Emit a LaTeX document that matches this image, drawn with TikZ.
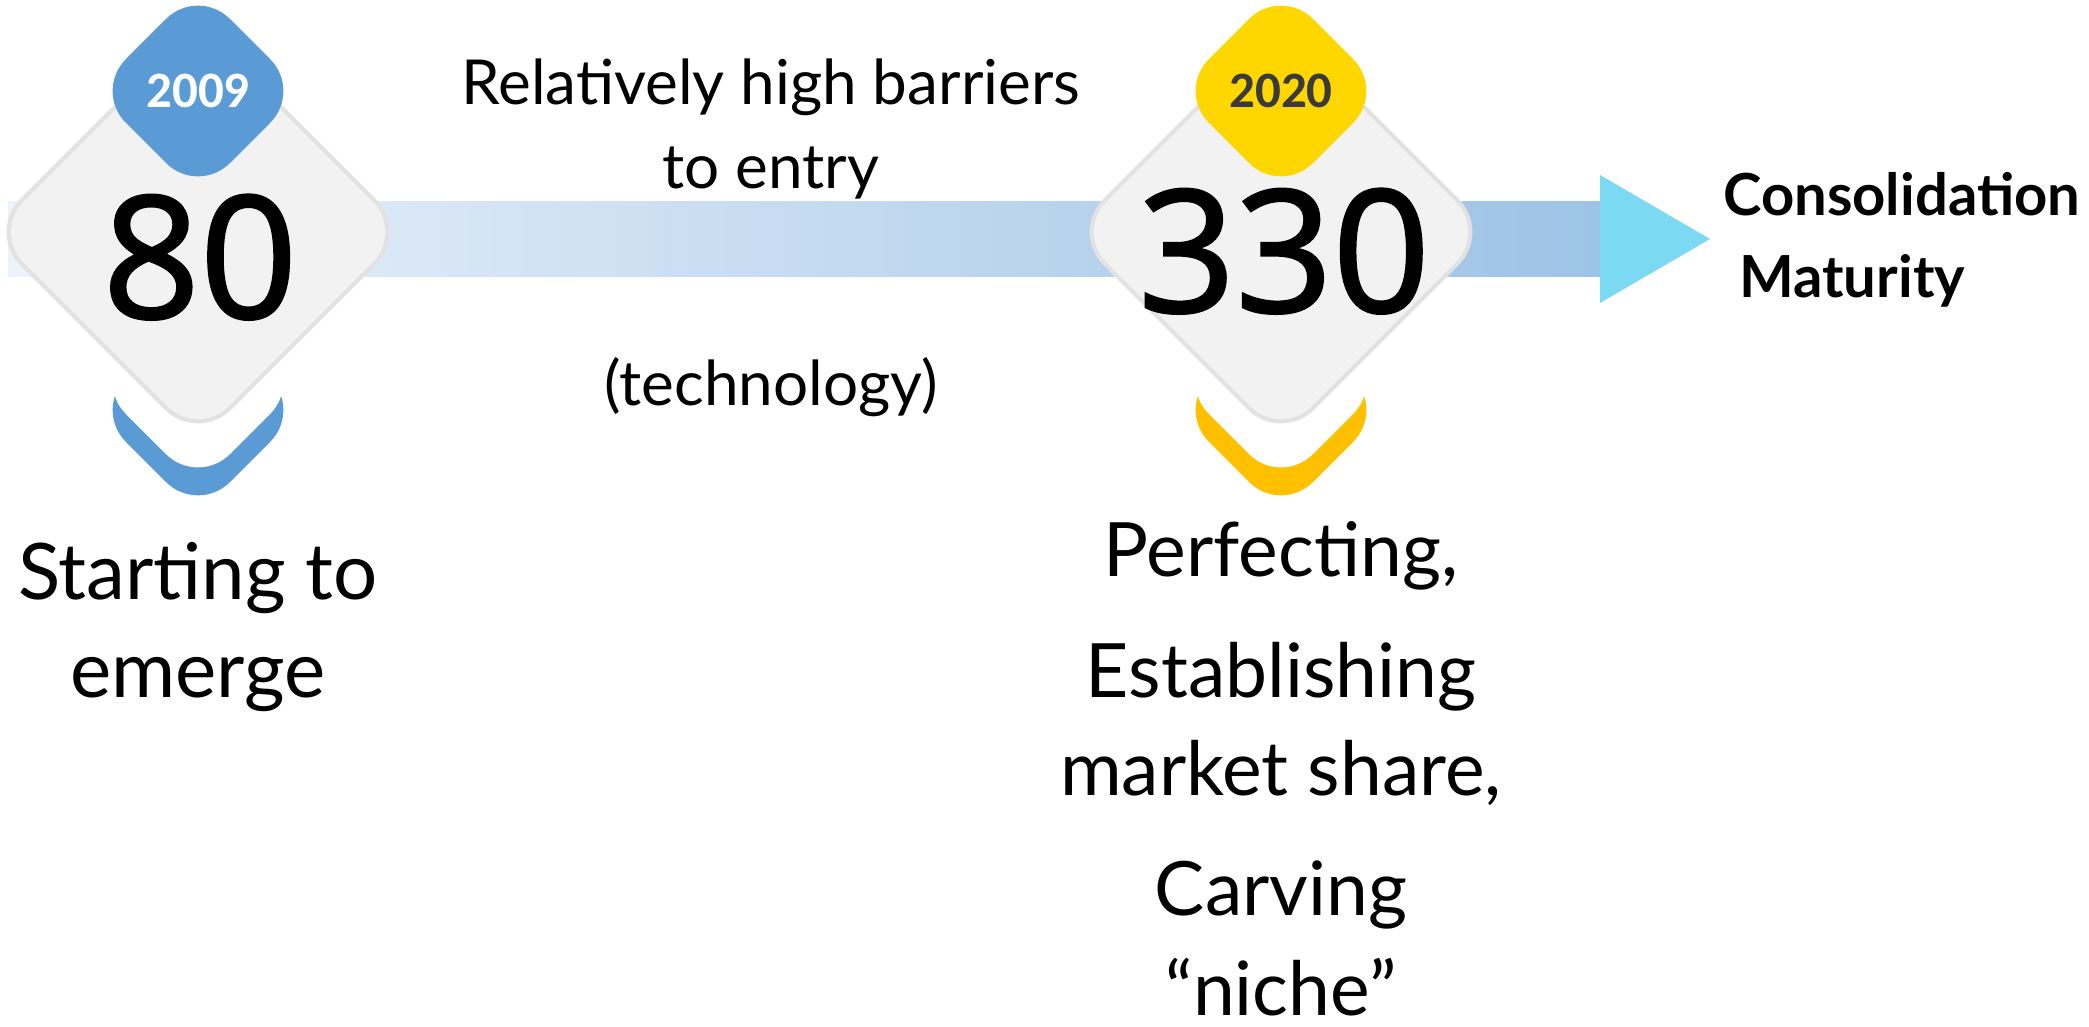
\documentclass[tikz,border=0pt]{standalone}
\usepackage{fontspec}
\setmainfont{Lato}
\newfontfamily\numfont[FakeBold=1.6]{Open Sans}
\newfontfamily\yearfont{Carlito}

\definecolor{badgeblue}{HTML}{5B9BD5}
\definecolor{badgegold}{HTML}{FFD700}
\definecolor{chevgold}{HTML}{FFC000}
\definecolor{tilefill}{HTML}{F2F2F2}
\definecolor{tileedge}{HTML}{E2E2E2}
\definecolor{bandlight}{HTML}{EEF3FA}
\definecolor{banddark}{HTML}{9DC3E6}
\definecolor{tipcyan}{HTML}{7BDAF2}
\definecolor{yeargray}{HTML}{3A3A3A}

% rounded diamond: centre x, centre y, half diagonal, style
\newcommand\rdiamond[4]{%
  \path[#4] (#1,#2-#3) -- (#1+#3,#2) -- (#1,#2+#3) -- (#1-#3,#2) -- cycle;}

\tikzset{
  tile/.style={fill=tilefill, draw=tileedge, line width=4pt, rounded corners=45pt},
  badge/.style={rounded corners=45pt},
  txt/.style={inner sep=0pt, anchor=base},
  bigtxt/.style={txt, font=\fontsize{78}{98}\selectfont},
  sidetxt/.style={txt, font=\fontsize{75}{98}\selectfont},
  midtxt/.style={txt, font=\fontsize{62}{80}\selectfont},
  endtxt/.style={inner sep=0pt, anchor=base west, font=\bfseries\fontsize{58}{80}\selectfont},
  numtxt/.style={txt, font=\numfont\fontsize{170}{170}\selectfont},
  yeartxt/.style={txt, font=\yearfont\bfseries\fontsize{51}{51}\selectfont},
}

\begin{document}
\begin{tikzpicture}[x=1pt, y=-1pt]
\useasboundingbox (0,0) rectangle (2089,1027);

% timeline band and its arrowhead
\shade[left color=bandlight, right color=banddark] (8,202) rectangle (1600,277);
\fill[tipcyan] (1600,175) -- (1710,239) -- (1600,303) -- cycle;

% chevrons under the tiles
\begin{scope}
  \clip (90,397) rectangle (310,520);
  \rdiamond{198}{410}{104}{badge, fill=badgeblue}
  \rdiamond{198}{382}{104}{badge, fill=white}
\end{scope}
\begin{scope}
  \clip (1170,397) rectangle (1390,520);
  \rdiamond{1281}{410}{104}{badge, fill=chevgold}
  \rdiamond{1281}{382}{104}{badge, fill=white}
\end{scope}

% number tiles
\rdiamond{198}{232}{208}{tile}
\rdiamond{1281}{232}{208}{tile}

% year badges
\rdiamond{198}{91}{104}{badge, fill=badgeblue}
\rdiamond{1281}{91}{104}{badge, fill=badgegold}

\node[yeartxt, text=white] (y2009) at (198,108) {2009};
\node[yeartxt, text=yeargray] (y2020) at (1281,108) {2020};

\node[numtxt] (n80) at (200,318) {80};
\node[numtxt] (n330) at (1284,312) {330};

% text between the tiles
\node[midtxt] (bar1) at (771,105) {Relatively high barriers};
\node[midtxt] (bar2) at (771,189) {to entry};
\node[midtxt] (tech) at (771,405) {(technology)};

% stage captions
\node[bigtxt] (st1) at (198,599) {Starting to};
\node[bigtxt] (st2) at (198,697) {emerge};

\node[sidetxt] (pf1) at (1281,576) {Perfecting,};
\node[sidetxt] (pf2) at (1281,697) {Establishing};
\node[sidetxt] (pf3) at (1281,795) {market share,};
\node[sidetxt] (pf4) at (1281,915) {Carving};
\node[sidetxt] (pf5) at (1281,1015) {“niche”};

\node[endtxt] (cons) at (1723,216) {Consolidation};
\node[endtxt] (mat) at (1739,298) {Maturity};
\end{tikzpicture}
\end{document}
